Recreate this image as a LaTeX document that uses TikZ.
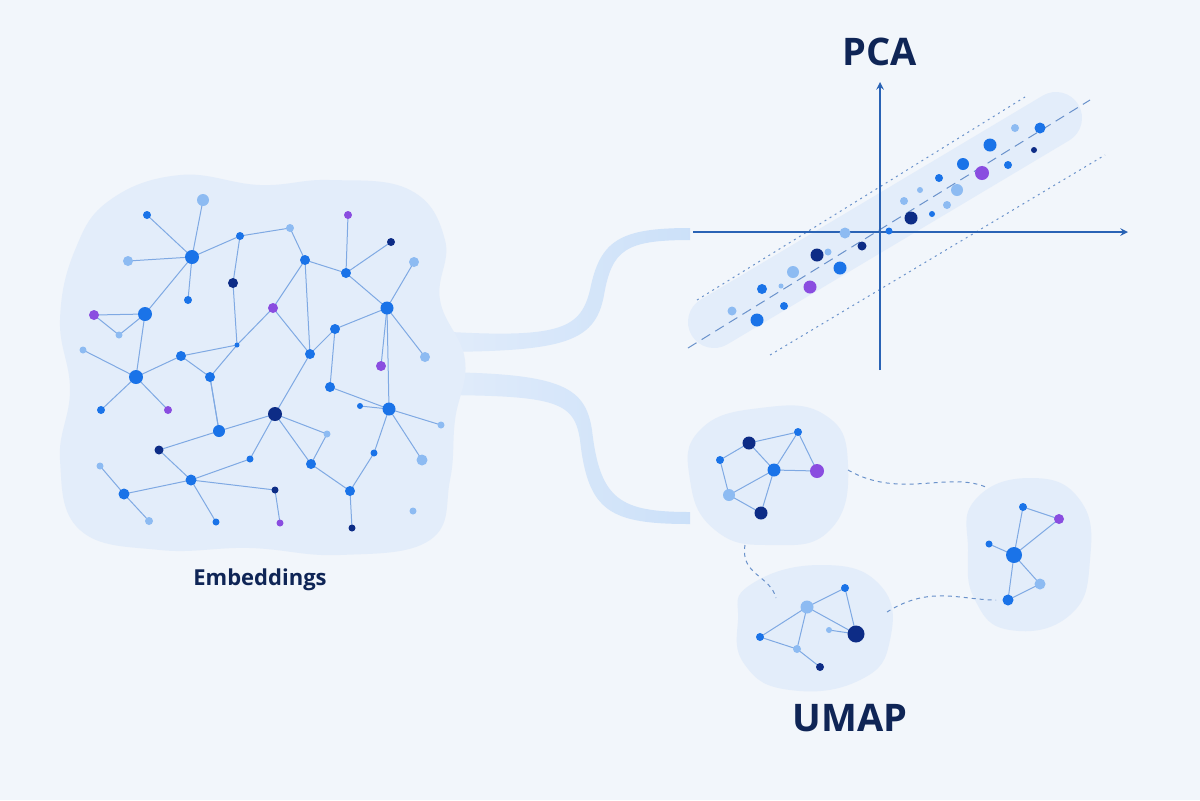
\documentclass[tikz,border=0pt]{standalone}
\usepackage{fontspec}
\setmainfont{Open Sans}
\begin{document}
\definecolor{bg}{HTML}{F2F6FB}
\definecolor{blobc}{HTML}{E3EDFA}
\definecolor{cB}{HTML}{1A73E8}
\definecolor{cL}{HTML}{8DBBF2}
\definecolor{cD}{HTML}{0D2C86}
\definecolor{cP}{HTML}{8A4DE0}
\definecolor{edge}{HTML}{7FA9E3}
\definecolor{axis}{HTML}{2A63B5}
\definecolor{txt}{HTML}{0F2556}
\begin{tikzpicture}[x=0.5pt,y=-0.5pt,
  dot/.style={circle,inner sep=0pt,draw=none},
  B/.style={dot,fill=cB,minimum size=#1},
  L/.style={dot,fill=cL,minimum size=#1},
  D/.style={dot,fill=cD,minimum size=#1},
  P/.style={dot,fill=cP,minimum size=#1},
  ed/.style={draw=edge,line width=0.5pt},
  dashc/.style={draw=axis!70,dash pattern=on 2pt off 2pt,line width=0.5pt},
  title/.style={text=txt,font=\bfseries\fontsize{19}{22}\selectfont},
  blob/.style={fill=blobc}]
\fill[bg] (0,0) rectangle (1200,800);
\useasboundingbox (0,0) rectangle (1200,800);
% funnels
\shade[left color=blobc,right color=cL!45] (420,330) .. controls (560,340) and (580,330) .. (590,290) .. controls (600,240) and (620,228) .. (690,228) -- (690,240) .. controls (625,240) and (612,250) .. (604,295) .. controls (595,345) and (560,352) .. (420,352) -- cycle;
\shade[left color=blobc,right color=cL!45] (420,372) .. controls (560,372) and (585,385) .. (592,430) .. controls (600,500) and (620,512) .. (690,512) -- (690,524) .. controls (610,524) and (588,512) .. (580,440) .. controls (574,400) and (555,395) .. (420,395) -- cycle;
% big blob
\fill[blob] plot[smooth cycle,tension=0.7] coordinates {(110,200) (180,175) (260,185) (330,180) (410,190) (445,240) (440,300) (465,360) (455,420) (450,480) (430,540) (340,555) (250,548) (160,550) (80,530) (60,460) (70,390) (60,320) (75,250)};
% network
\foreach \n/\s/\x/\y in {
1/B/147/215, 2/L/203/200, 3/B/192/257, 4/L/128/261, 5/B/240/236, 6/L/290/228, 7/P/348/215, 8/D/391/242,
9/D/233/283, 10/B/188/300, 11/B/145/314, 12/P/94/315, 13/L/119/335, 14/L/83/350, 15/B/305/260, 16/B/346/273,
17/L/414/262, 18/P/273/308, 19/B/237/345, 20/B/181/356, 21/B/136/377, 22/B/210/377, 23/B/335/329, 24/B/387/308,
25/B/310/354, 26/L/425/357, 27/P/381/366, 28/B/101/410, 29/P/168/410, 30/B/219/431, 31/D/275/414, 32/B/330/387,
33/B/360/406, 34/B/389/409, 35/L/441/425, 36/L/327/434, 37/D/159/450, 38/L/100/466, 39/B/250/459, 40/B/311/464,
41/B/374/453, 42/L/422/460, 43/B/124/494, 44/B/191/480, 45/D/275/490, 46/B/350/491, 47/L/149/521, 48/B/216/522,
49/P/280/523, 50/D/352/528, 51/L/413/511}
  \coordinate (n\n) at (\x,\y);
\foreach \a/\b in {1/3,2/3,4/3,3/5,3/11,3/10,5/6,6/15,7/16,15/16,8/16,16/24,17/24,15/18,11/12,11/13,11/21,14/21,21/20,21/28,21/29,20/22,9/19,19/22,19/18,20/19,22/30,18/25,15/25,25/23,23/24,24/27,24/26,24/34,23/32,25/31,31/30,31/36,31/39,31/40,30/37,37/44,44/43,43/38,43/47,44/48,44/45,44/39,40/46,46/50,46/41,34/33,34/35,34/42,34/41,32/34,45/49,30/22,9/5,12/13,40/36}
  \draw[ed] (n\a) -- (n\b);
\foreach \n/\s/\d in {1/B/8,2/L/12,3/B/14,4/L/10,5/B/8,6/L/8,7/P/8,8/D/8,9/D/10,10/B/8,11/B/14,12/P/10,13/L/7,14/L/7,15/B/10,16/B/10,17/L/10,18/P/10,19/B/5,20/B/10,21/B/14,22/B/10,23/B/10,24/B/13,25/B/10,26/L/10,27/P/10,28/B/8,29/P/8,30/B/12,31/D/14,32/B/10,33/B/6,34/B/13,35/L/7,36/L/7,37/D/9,38/L/7,39/B/7,40/B/10,41/B/7,42/L/11,43/B/11,44/B/11,45/D/7,46/B/10,47/L/8,48/B/7,49/P/7,50/D/7,51/L/7}
  \node[\s=\d*0.5pt] (m\n) at (n\n) {};
\node[text=txt,font=\bfseries\fontsize{11}{13}\selectfont] (emb) at (260,580) {Embeddings};
% PCA
\coordinate (bA) at (714,322); \coordinate (bB) at (1056,118);
\draw[blobc,line width=26pt,line cap=round] (bA) -- (bB);
\coordinate (d1) at (697,300); \coordinate (d2) at (1025,97);
\coordinate (d3) at (770,355); \coordinate (d4) at (1105,155);
\coordinate (c1) at (688,348); \coordinate (c2) at (1090,100);
\draw[dashc,dash pattern=on 1pt off 2pt] (d1) -- (d2);
\draw[dashc,dash pattern=on 1pt off 2pt] (d3) -- (d4);
\draw[dashc,dash pattern=on 5pt off 3pt] (c1) -- (c2);
\coordinate (ya) at (880,370); \coordinate (yb) at (880,82);
\coordinate (xa) at (693,232); \coordinate (xb) at (1128,232);
\draw[axis,line width=0.7pt,-stealth] (ya) -- (yb);
\draw[axis,line width=0.7pt,-stealth] (xa) -- (xb);
\foreach \s/\x/\y/\d [count=\i] in {L/732/311/9,B/757/320/13,B/762/289/10,L/781/286/5,B/784/306/8,L/793/272/12,P/810/287/13,D/817/255/13,B/840/268/13,L/828/252/7,L/845/233/11,D/862/246/9,B/889/231/7,L/904/201/8,D/911/218/13,L/920/190/6,B/932/214/6,B/939/178/8,L/947/205/8,L/957/190/12,B/963/164/12,P/982/173/14,B/990/145/13,B/1008/165/8,L/1015/128/8,B/1040/128/11,D/1034/150/6}
  \node[\s=\d*0.5pt] (p\i) at (\x,\y) {};
\node[title] (pca) at (880,52) {PCA};
% UMAP blobs
\fill[blob] plot[smooth cycle,tension=0.8] coordinates {(700,430) (760,408) (825,415) (848,465) (830,530) (770,545) (715,530) (690,480)};
\fill[blob] plot[smooth cycle,tension=0.8] coordinates {(750,585) (820,565) (880,585) (890,640) (860,680) (790,690) (745,665) (738,620)};
\fill[blob] plot[smooth cycle,tension=0.8] coordinates {(975,500) (1030,478) (1080,500) (1090,560) (1070,615) (1010,630) (975,600) (968,550)};
\coordinate (k1) at (848,470); \coordinate (k2) at (988,488);
\coordinate (k3) at (745,545); \coordinate (k4) at (776,598);
\coordinate (k5) at (887,612); \coordinate (k6) at (996,600);
\draw[dashc] (k1) .. controls (900,500) and (950,470) .. (k2);
\draw[dashc] (k3) .. controls (740,575) and (770,575) .. (k4);
\draw[dashc] (k5) .. controls (930,585) and (960,600) .. (k6);
\foreach \n/\s/\x/\y/\d in {a1/B/720/460/8,a2/D/749/443/13,a3/B/774/470/13,a4/L/729/495/12,a5/D/761/513/13,a6/B/798/432/8,a7/P/817/471/14,
 b1/B/845/588/8,b2/L/807/607/13,b3/B/760/637/8,b4/L/797/649/8,b5/L/829/630/6,b6/D/856/634/17,b7/D/820/667/8,
 c1/B/1023/507/8,c2/P/1059/519/10,c3/B/989/544/7,c4/B/1014/555/16,c5/L/1040/584/11,c6/B/1008/600/11}
  \coordinate (\n) at (\x,\y);
\foreach \a/\b in {a1/a2,a1/a4,a2/a3,a2/a6,a3/a6,a3/a7,a6/a7,a3/a4,a3/a5,a4/a5,
 b1/b6,b2/b1,b2/b3,b2/b4,b2/b6,b3/b4,b4/b7,b5/b6,
 c1/c4,c1/c2,c4/c2,c3/c4,c4/c5,c4/c6,c6/c5}
  \draw[ed] (\a) -- (\b);
\foreach \n/\s/\x/\y/\d in {a1/B/720/460/8,a2/D/749/443/13,a3/B/774/470/13,a4/L/729/495/12,a5/D/761/513/13,a6/B/798/432/8,a7/P/817/471/14,
 b1/B/845/588/8,b2/L/807/607/13,b3/B/760/637/8,b4/L/797/649/8,b5/L/829/630/6,b6/D/856/634/17,b7/D/820/667/8,
 c1/B/1023/507/8,c2/P/1059/519/10,c3/B/989/544/7,c4/B/1014/555/16,c5/L/1040/584/11,c6/B/1008/600/11}
  \node[\s=\d*0.5pt] (u\n) at (\n) {};
\node[title] (umap) at (850,718) {UMAP};
\end{tikzpicture}
\end{document}
